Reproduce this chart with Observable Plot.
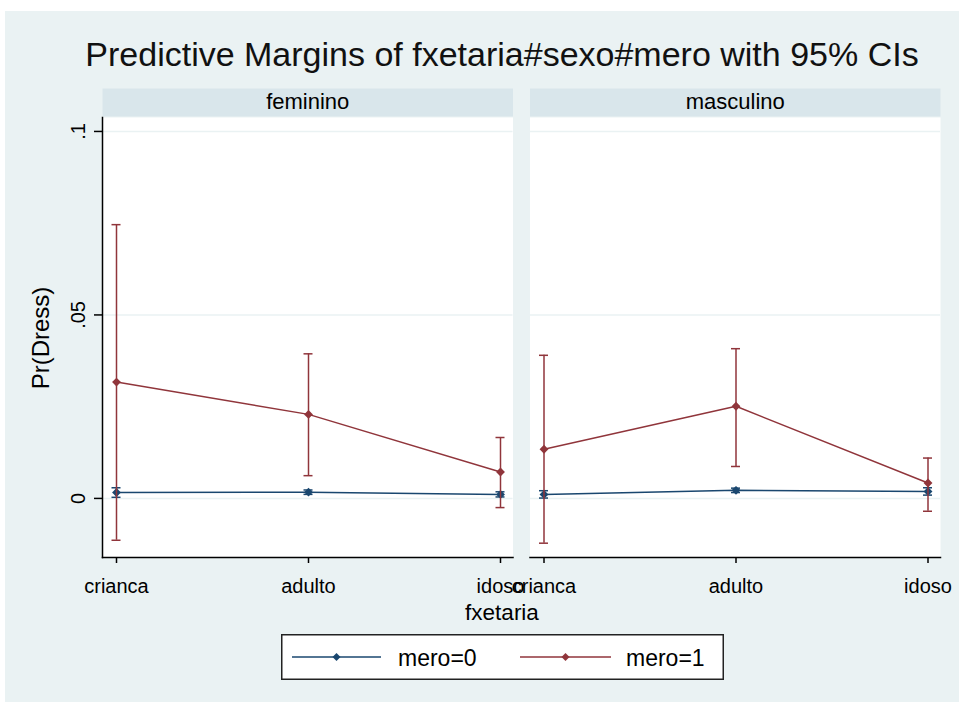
<!DOCTYPE html>
<html>
<head>
<meta charset="utf-8">
<script src="https://cdn.jsdelivr.net/npm/d3@7"></script>
<script src="https://cdn.jsdelivr.net/npm/@observablehq/plot@0.6"></script>
<style>
  html, body { margin: 0; padding: 0; background: #ffffff; }
  body { width: 965px; height: 707px; position: relative; overflow: hidden;
         font-family: "Liberation Sans", Arial, sans-serif; color: #000; }
  #bg { position: absolute; left: 5px; top: 11px; width: 954px; height: 691px; background: #eaf2f3; }
  #chart { position: absolute; left: 0; top: 0; }
  .txt { position: absolute; white-space: nowrap; line-height: 1; }
  #title { font-size: 34px; left: 502px; top: 37px; transform: translateX(-50%); color: #111; }
  #xtitle { font-size: 22.5px; left: 502px; top: 602px; transform: translateX(-50%); }
  #ytitle { font-size: 24px; left: 41px; top: 338px; transform: translate(-50%, -50%) rotate(-90deg); }
  #legend { position: absolute; left: 281px; top: 634px; }
</style>
</head>
<body>
<div id="bg"></div>
<div id="chart"></div>
<div id="title" class="txt">Predictive Margins of fxetaria#sexo#mero with 95% CIs</div>
<div id="xtitle" class="txt">fxetaria</div>
<div id="ytitle" class="txt">Pr(Dress)</div>
<div id="legend"></div>
<script>
// ---- data ----
const categories = ["crianca", "adulto", "idoso"];
const sexes = ["feminino", "masculino"];
const meroLevels = ["mero=0", "mero=1"];
const yTicks = [0, 0.05, 0.1];

const femMero0   = [0.0016, 0.0017, 0.0011];
const femMero0Lo = [0.0003, 0.0011, 0.0004];
const femMero0Hi = [0.0029, 0.0023, 0.0018];
const femMero1   = [0.0317, 0.0229, 0.0072];
const femMero1Lo = [-0.0114, 0.0062, -0.0025];
const femMero1Hi = [0.0746, 0.0394, 0.0166];

const masMero0   = [0.0011, 0.0022, 0.0019];
const masMero0Lo = [0.0001, 0.0016, 0.0009];
const masMero0Hi = [0.0021, 0.0028, 0.0029];
const masMero1   = [0.0134, 0.0251, 0.0042];
const masMero1Lo = [-0.0122, 0.0087, -0.0035];
const masMero1Hi = [0.0390, 0.0408, 0.0110];

const colors = { "mero=0": "#1a476f", "mero=1": "#90353b" };

// ---- build table ----
function rows(sex, mero, v, lo, hi) {
  return categories.map((c, i) => ({ sex, mero, cat: c, value: v[i], lo: lo[i], hi: hi[i] }));
}
const data = [
  ...rows("feminino", "mero=0", femMero0, femMero0Lo, femMero0Hi),
  ...rows("feminino", "mero=1", femMero1, femMero1Lo, femMero1Hi),
  ...rows("masculino", "mero=0", masMero0, masMero0Lo, masMero0Hi),
  ...rows("masculino", "mero=1", masMero1, masMero1Lo, masMero1Hi)
];

const W = 965, H = 640, mt = 117, mb = 83, ml = 102, mr = 25;
const frameH = H - mt - mb;

const fmt = d => d === 0 ? "0" : d3.format(".2~f")(d).replace(/^0/, "");

function seriesMarks(m) {
  const d = data.filter(r => r.mero === m);
  const c = colors[m];
  return [
    Plot.line(d, { x: "cat", y: "value", fx: "sex", stroke: c, strokeWidth: 1.5 }),
    Plot.ruleX(d, { x: "cat", y1: "lo", y2: "hi", fx: "sex", stroke: c, strokeWidth: 1.5 }),
    Plot.ruleY(d, { x1: "cat", x2: "cat", y: "lo", fx: "sex", stroke: c, strokeWidth: 1.5, insetLeft: -4.5, insetRight: -4.5 }),
    Plot.ruleY(d, { x1: "cat", x2: "cat", y: "hi", fx: "sex", stroke: c, strokeWidth: 1.5, insetLeft: -4.5, insetRight: -4.5 }),
    Plot.dot(d, { x: "cat", y: "value", fx: "sex", fill: c, stroke: "none", symbol: "diamond2", r: 4 })
  ];
}

const chart = Plot.plot({
  width: W, height: H,
  marginTop: mt, marginBottom: mb, marginLeft: ml, marginRight: mr,
  style: { fontFamily: "'Liberation Sans', Arial, sans-serif", fontSize: "20px", background: "transparent", color: "#000" },
  fx: { domain: sexes, paddingInner: 17 / 427.5, paddingOuter: 0, round: false },
  x: { type: "point", domain: categories, padding: 0, insetLeft: 13, insetRight: 12 },
  y: { domain: [-0.0161, 0.1038] },
  marks: [
    Plot.frame({ fill: "white", stroke: "none" }),
    Plot.frame({ fill: "#d9e6eb", stroke: "none", insetTop: -29, insetBottom: frameH + 1 }),
    Plot.gridY(yTicks, { stroke: "#eaf2f3", strokeOpacity: 1, strokeWidth: 1.5 }),
    Plot.axisFx({ anchor: "top", tickSize: 0, tickPadding: 9, fontSize: 22, label: null }),
    Plot.axisY(yTicks, { anchor: "left", tickSize: 8, tickPadding: 10, tickRotate: -90, tickFormat: fmt, fontSize: 20, label: null, strokeWidth: 1.5 }),
    Plot.axisX({ tickSize: 6, tickPadding: 15, fontSize: 20, label: null, strokeWidth: 1.5 }),
    Plot.frame({ anchor: "left", facetAnchor: "left", stroke: "#000", strokeWidth: 1.5 }),
    Plot.frame({ anchor: "bottom", stroke: "#000", strokeWidth: 1.5 }),
    ...seriesMarks("mero=0"),
    ...seriesMarks("mero=1")
  ]
});
document.getElementById("chart").appendChild(chart);

// ---- legend ----
const lw = 443, lh = 46;
const ls = d3.create("svg").attr("width", lw).attr("height", lh)
  .style("font-family", "'Liberation Sans', Arial, sans-serif");
ls.append("rect").attr("x", 0.75).attr("y", 0.75).attr("width", lw - 1.5).attr("height", lh - 1.5)
  .attr("fill", "white").attr("stroke", "#222").attr("stroke-width", 1.5);
const items = [{ m: meroLevels[0], x0: 11, x1: 100, tx: 117 }, { m: meroLevels[1], x0: 239, x1: 330, tx: 345 }];
items.forEach(it => {
  const c = colors[it.m], cy = 23;
  ls.append("line").attr("x1", it.x0).attr("x2", it.x1).attr("y1", cy).attr("y2", cy)
    .attr("stroke", c).attr("stroke-width", 1.5);
  const cx = (it.x0 + it.x1) / 2, r = 4;
  ls.append("path").attr("d", `M${cx},${cy - r}L${cx + r},${cy}L${cx},${cy + r}L${cx - r},${cy}Z`).attr("fill", c);
  ls.append("text").attr("x", it.tx).attr("y", 32).attr("font-size", 23).attr("fill", "#000").text(it.m);
});
document.getElementById("legend").appendChild(ls.node());
</script>
</body>
</html>
